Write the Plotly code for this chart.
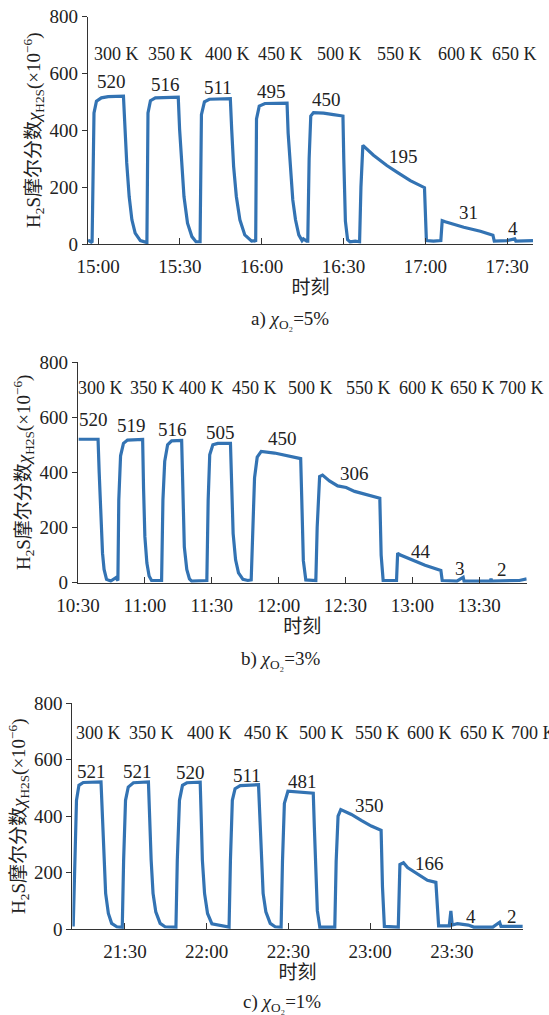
import plotly.graph_objects as go

# ---------------- data (time in minutes since midnight, H2S in 1e-6) ----------------
# Panel a) O2 = 5 %
a_time = [896.3, 897.5, 897.8, 898.5, 899.4, 901.2, 903.7, 909.3,
          909.5, 909.9, 910.5, 911.4, 912.4, 913.6, 915.5, 917.3,
          917.9, 918.3, 919.2, 921.0, 929.4,
          929.9, 930.7, 931.5, 932.8, 934.4, 935.9, 937.1,
          937.4, 937.9, 939.0, 940.8, 948.5,
          949.0, 949.7, 950.7, 952.0, 953.8, 956.3, 957.5,
          957.8, 958.1, 959.1, 961.2, 969.3,
          969.7, 970.5, 971.4, 972.4, 973.6, 974.8, 975.3, 976.5,
          976.9, 977.4, 978.0, 979.0, 982.7, 986.3, 989.8,
          990.1, 990.7, 991.5, 992.4, 994.3, 995.9,
          996.4, 997.1, 1001.0, 1005.9, 1009.6, 1014.5, 1019.7,
          1020.1, 1020.4, 1023.0, 1025.7,
          1026.2, 1027.3, 1034.1, 1040.2, 1044.8,
          1045.3, 1050.0, 1052.8, 1053.2, 1056.0, 1059.5]
a_value = [14, 8, 5, 461, 502, 514, 518, 520,
           461, 402, 285, 167, 85, 38, 12, 5,
           5, 461, 504, 514, 516,
           402, 273, 167, 73, 26, 8, 8,
           8, 455, 500, 509, 511,
           402, 273, 167, 85, 32, 10, 12,
           8, 440, 485, 494, 495,
           390, 260, 155, 85, 32, 12, 18, 10,
           10, 300, 450, 462, 460, 455, 450,
           300, 80, 15, 8, 10, 8,
           200, 347, 312, 276, 253, 223, 198,
           100, 12, 10, 12,
           82, 78, 59, 45, 31,
           10, 12, 18, 10, 10, 12]

# Panel b) O2 = 3 %
b_time = [630.3, 639.0, 639.5, 640.2, 641.0, 641.7, 642.8, 644.7, 647.0, 647.9,
          648.3, 649.1, 650.4, 652.2, 659.0,
          659.4, 660.0, 660.9, 661.9, 663.0, 667.5,
          668.1, 668.9, 670.2, 672.0, 676.5,
          677.0, 677.7, 678.8, 680.0, 681.0, 687.8,
          688.4, 689.1, 690.5, 692.7, 698.4,
          698.9, 699.6, 700.7, 702.0, 704.0, 706.2, 707.7,
          708.3, 709.2, 710.4, 712.2, 718.2, 725.0, 729.9,
          730.4, 731.1, 732.2, 736.7,
          737.3, 738.4, 739.7, 742.8, 746.5, 750.3, 754.1, 758.6, 765.4,
          766.0, 766.9, 772.9,
          773.4, 774.4, 779.7, 785.7, 792.8,
          793.4, 800.0, 802.8, 803.2, 803.6, 815.0, 815.3, 815.6, 828.0, 831.3]
b_value = [520, 520, 400, 226, 107, 48, 12, 6, 18, 8,
           300, 460, 505, 517, 519,
           345, 167, 71, 24, 8, 8,
           300, 440, 500, 514, 516,
           345, 130, 48, 14, 6, 8,
           300, 464, 500, 505, 505,
           345, 178, 83, 36, 12, 8, 10,
           200, 380, 455, 476, 470, 460, 450,
           300, 80, 10, 8,
           200, 385, 390, 369, 351, 345, 331, 321, 306,
           100, 8, 8,
           107, 101, 83, 63, 44,
           8, 6, 20, 6, 6, 6, 15, 6, 8, 14]

# Panel c) O2 = 1 %
c_time = [1271.0, 1271.6, 1272.2, 1273.1, 1274.7, 1281.2,
          1281.7, 1282.3, 1282.9, 1283.9, 1285.1, 1287.0, 1289.0,
          1289.5, 1290.2, 1291.2, 1293.1, 1298.6,
          1298.9, 1299.6, 1300.3, 1301.3, 1302.9, 1304.7, 1308.7,
          1309.2, 1310.0, 1311.1, 1312.7, 1317.6,
          1317.9, 1318.4, 1319.2, 1320.3, 1321.9, 1328.2,
          1328.7, 1329.4, 1330.4, 1332.3, 1339.0,
          1339.4, 1340.0, 1340.7, 1341.7, 1343.3, 1345.1, 1347.3,
          1347.8, 1348.5, 1349.8, 1353.6, 1359.1,
          1359.5, 1360.0, 1360.6, 1361.5, 1367.0,
          1367.5, 1368.2, 1369.2, 1373.1, 1376.7, 1380.4, 1384.0,
          1384.5, 1385.2, 1390.3,
          1390.9, 1392.2, 1393.7, 1397.4, 1401.0, 1404.1,
          1404.6, 1405.1, 1409.0, 1409.6, 1410.1, 1412.0, 1416.0, 1418.0,
          1425.0, 1427.5, 1428.0, 1436.0]
c_value = [10, 303, 456, 509, 519, 521,
           420, 245, 127, 56, 21, 9, 7,
           245, 456, 503, 518, 521,
           420, 245, 127, 62, 21, 9, 8,
           245, 456, 509, 518, 520,
           420, 245, 127, 56, 19, 8,
           245, 456, 497, 508, 511,
           420, 245, 127, 62, 21, 9, 8,
           240, 445, 488, 486, 481,
           360, 182, 65, 8, 8,
           240, 400, 423, 406, 385, 365, 350,
           150, 10, 8,
           229, 235, 218, 194, 173, 166,
           60, 12, 12, 65, 15, 20, 15, 8,
           8, 25, 10, 10]

# Tick positions / labels
a_ticks = [900, 930, 960, 990, 1020, 1050]
a_ticklabels = ["15:00", "15:30", "16:00", "16:30", "17:00", "17:30"]
b_ticks = [630, 660, 690, 720, 750, 780, 810]
b_ticklabels = ["10:30", "11:00", "11:30", "12:00", "12:30", "13:00", "13:30"]
c_ticks = [1290, 1320, 1350, 1380, 1410]
c_ticklabels = ["21:30", "22:00", "22:30", "23:00", "23:30"]
y_ticks = [0, 200, 400, 600, 800]

# Peak value labels (x, y, text)
a_lab_x = [904.8, 924.8, 943.8, 963.6, 983.7, 1012.1, 1036.0, 1052.2]
a_lab_y = [570, 562, 550, 538, 509, 307, 112, 53]
a_lab_t = ["520", "516", "511", "495", "450", "195", "31", "4"]
b_lab_x = [637.1, 654.2, 672.6, 693.9, 721.9, 754.0, 784.0, 801.3, 820.3]
b_lab_y = [591, 570, 557, 545, 521, 397, 113, 52, 48]
b_lab_t = ["520", "519", "516", "505", "450", "306", "44", "3", "2"]
c_lab_x = [1277.8, 1294.5, 1314.2, 1334.8, 1355.3, 1379.8, 1401.6, 1417.0, 1432.1]
c_lab_y = [558, 558, 555, 543, 523, 437, 234, 47, 47]
c_lab_t = ["521", "521", "520", "511", "481", "350", "166", "4", "2"]

# Temperature labels
a_temp_x = [906.7, 926.5, 947.4, 966.8, 988.6, 1010.4, 1032.8, 1052.8]
a_temp_t = ["300 K", "350 K", "400 K", "450 K", "500 K", "550 K", "600 K", "650 K"]
b_temp_x = [640.3, 663.2, 685.3, 709.0, 734.2, 760.3, 784.0, 806.8, 829.0]
b_temp_t = ["300 K", "350 K", "400 K", "450 K", "500 K", "550 K", "600 K", "650 K", "700 K"]
c_temp_x = [1280.4, 1299.6, 1320.9, 1342.0, 1362.0, 1382.6, 1401.9, 1421.2, 1439.8]
c_temp_t = ["300 K", "350 K", "400 K", "450 K", "500 K", "550 K", "600 K", "650 K", "700 K"]
temp_y = [669, 707, 694]

captions = ["a) <i>χ</i><sub>O₂</sub>=5%", "b) <i>χ</i><sub>O₂</sub>=3%", "c) <i>χ</i><sub>O₂</sub>=1%"]

# ---------------- figure ----------------
W, H = 549, 1015
LINE = "#3373b3"
TXT = "#222222"
FONT = "Liberation Serif, Noto Sans CJK SC, serif"
FS = 19       # tick labels / value labels
FS_T = 18     # temperature labels
FS_TITLE = 19

panels = [
    dict(t=a_time, v=a_value, ticks=a_ticks, tl=a_ticklabels, rng=[896.3, 1059.5],
         xd=[88 / W, 533 / W], yd=[1 - 244 / H, 1 - 16.5 / H],
         lx=a_lab_x, ly=a_lab_y, lt=a_lab_t, tx=a_temp_x, tt=a_temp_t, ty=temp_y[0]),
    dict(t=b_time, v=b_value, ticks=b_ticks, tl=b_ticklabels, rng=[630, 831.3],
         xd=[78 / W, 526.7 / W], yd=[1 - 582.7 / H, 1 - 362 / H],
         lx=b_lab_x, ly=b_lab_y, lt=b_lab_t, tx=b_temp_x, tt=b_temp_t, ty=temp_y[1]),
    dict(t=c_time, v=c_value, ticks=c_ticks, tl=c_ticklabels, rng=[1270.7, 1436.0],
         xd=[72.4 / W, 522.8 / W], yd=[1 - 929.3 / H, 1 - 703 / H],
         lx=c_lab_x, ly=c_lab_y, lt=c_lab_t, tx=c_temp_x, tt=c_temp_t, ty=temp_y[2]),
]
caption_y = [320, 660, 1003]
caption_x = [290, 280, 282]

fig = go.Figure()
annotations = []
layout = dict(
    width=W, height=H, margin=dict(l=0, r=0, t=0, b=0),
    paper_bgcolor="white", plot_bgcolor="white", showlegend=False,
    font=dict(family=FONT, size=FS, color=TXT),
)

ytitle = "H<sub>2</sub>S摩尔分数<i>χ</i><sub>H2S</sub>(×10<sup>−6</sup>)"

for i, p in enumerate(panels):
    sfx = "" if i == 0 else str(i + 1)
    xa, ya = "x" + sfx, "y" + sfx
    fig.add_trace(go.Scatter(x=p["t"], y=p["v"], mode="lines",
                             line=dict(color=LINE, width=3.2),
                             xaxis=xa, yaxis=ya, hoverinfo="skip"))
    layout["xaxis" + sfx] = dict(
        domain=p["xd"], range=p["rng"], anchor=ya,
        tickmode="array", tickvals=p["ticks"], ticktext=p["tl"],
        ticks="inside", ticklen=6, tickcolor="#333", tickwidth=1.2,
        showline=True, linecolor="#333", linewidth=1.4, showgrid=False,
        zeroline=False, automargin=False, ticklabelstandoff=5,
        tickfont=dict(family=FONT, size=FS, color=TXT),
        title=dict(text="时刻", font=dict(family=FONT, size=FS_TITLE, color=TXT), standoff=1),
    )
    layout["yaxis" + sfx] = dict(
        domain=p["yd"], range=[0, 800], anchor=xa,
        tickmode="array", tickvals=y_ticks,
        ticks="outside", ticklen=5, tickcolor="#333", tickwidth=1.2,
        showline=True, linecolor="#333", linewidth=1.4, showgrid=False,
        zeroline=False, automargin=False,
        tickfont=dict(family=FONT, size=FS, color=TXT),
        title=dict(text=ytitle, font=dict(family=FONT, size=FS_TITLE, color=TXT), standoff=3),
    )
    for x, y, t in zip(p["lx"], p["ly"], p["lt"]):
        annotations.append(dict(x=x, y=y, xref=xa, yref=ya, text=t, showarrow=False,
                                font=dict(family=FONT, size=FS, color=TXT)))
    for j, (x, t) in enumerate(zip(p["tx"], p["tt"])):
        xx, xanc = x, "center"
        if x > p["rng"][1]:
            xx, xanc = x - 9.0, "left"
        annotations.append(dict(x=xx, y=p["ty"], xref=xa, yref=ya, text=t, showarrow=False,
                                xanchor=xanc,
                                font=dict(family=FONT, size=FS_T, color=TXT)))
    annotations.append(dict(x=caption_x[i] / W, y=1 - caption_y[i] / H, xref="paper", yref="paper",
                            text=captions[i], showarrow=False, xanchor="center", yanchor="middle",
                            font=dict(family=FONT, size=FS, color=TXT)))

layout["annotations"] = annotations
fig.update_layout(**layout)
fig.write_html("out.html")
